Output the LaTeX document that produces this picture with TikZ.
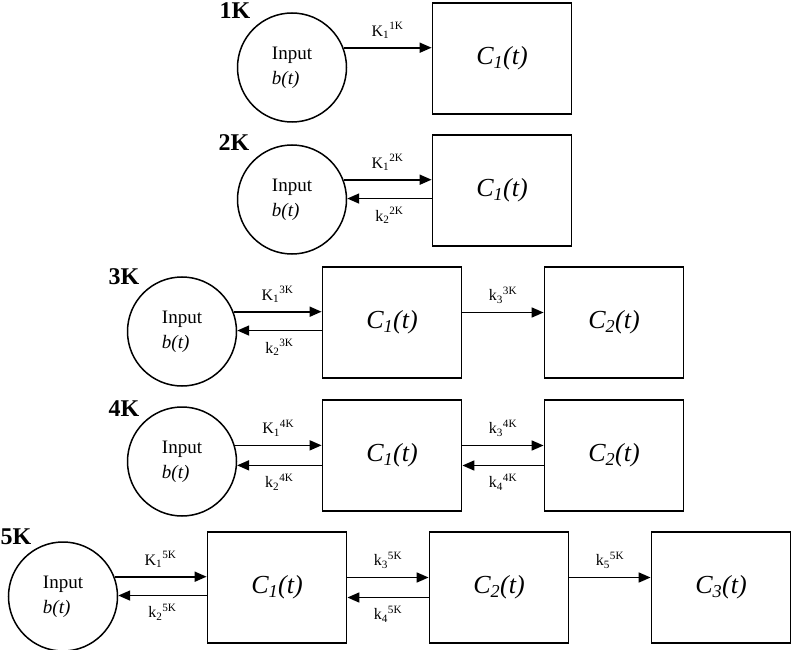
\documentclass[tikz,border=0pt]{standalone}
\usepackage{fontspec}
\setmainfont{Liberation Serif}
\usetikzlibrary{arrows.meta}

\begin{document}
\begin{tikzpicture}[x=1pt,y=-1pt]
\tikzstyle{pool} = [draw,shape=circle,line width=1.5pt,minimum size=109pt,inner sep=0pt,align=left,font=\fontsize{19}{25}\selectfont]
\tikzstyle{comp} = [draw,shape=rectangle,line width=1.8pt,minimum width=139pt,minimum height=111pt,inner sep=0pt,font=\fontsize{26}{28}\selectfont\itshape,node distance=222pt]
\tikzstyle{flow} = [line width=1.7pt,-{Triangle[length=12pt,width=10pt]}]
\tikzstyle{rate} = [font=\fontsize{16}{18}\selectfont,inner sep=2pt]
\tikzstyle{model} = [font=\fontsize{24}{26}\selectfont\bfseries,inner sep=0pt]

\useasboundingbox (0,0) rectangle (793,650);

% 1K
\node[comp] (c11) at (502,58.5) {C\textsubscript{1}(t)};
\node[pool,node distance=210pt,left of=c11,yshift=-9pt] (in1) {Input\\\textit{b(t)}};
\node[model] (m1) at (235,11) {1K};

\draw[flow] (in1.21) -- (in1.21 -| c11.west) node[rate,midway,above=6pt] (r11) {K\textsubscript{1}\textsuperscript{1K}};

% 2K
\node[comp] (c21) at (502,190.5) {C\textsubscript{1}(t)};
\node[pool,node distance=210pt,left of=c21,yshift=-9pt] (in2) {Input\\\textit{b(t)}};
\node[model] (m2) at (234,143) {2K};

\draw[flow] (in2.21) -- (in2.21 -| c21.west) node[rate,midway,above=6pt] (r21) {K\textsubscript{1}\textsuperscript{2K}};
\draw[flow] (c21.west |- in2.1) -- (in2.1) node[rate,midway,below=6pt] (r22) {k\textsubscript{2}\textsuperscript{2K}};

% 3K
\node[comp] (c31) at (392,322.5) {C\textsubscript{1}(t)};
\node[comp,right of=c31] (c32) {C\textsubscript{2}(t)};
\node[pool,node distance=210pt,left of=c31,yshift=-9pt] (in3) {Input\\\textit{b(t)}};
\node[model] (m3) at (124,277) {3K};

\draw[flow] (in3.21) -- (in3.21 -| c31.west) node[rate,midway,above=6pt] (r31) {K\textsubscript{1}\textsuperscript{3K}};
\draw[flow] (c31.west |- in3.1) -- (in3.1) node[rate,midway,below=6pt] (r32) {k\textsubscript{2}\textsuperscript{3K}};
\draw[flow] ([yshift=10pt]c31.east) -- ([yshift=10pt]c32.west) node[rate,midway,above=6pt] (r33) {k\textsubscript{3}\textsuperscript{3K}};

% 4K
\node[comp] (c41) at (392,455.5) {C\textsubscript{1}(t)};
\node[comp,right of=c41] (c42) {C\textsubscript{2}(t)};
\node[pool,node distance=210pt,left of=c41,yshift=-6pt] (in4) {Input\\\textit{b(t)}};
\node[model] (m4) at (124,409) {4K};

\draw[flow] (in4.17) -- (in4.17 -| c41.west) node[rate,midway,above=6pt] (r41) {K\textsubscript{1}\textsuperscript{4K}};
\draw[flow] (c41.west |- in4.-4) -- (in4.-4) node[rate,midway,below=6pt] (r42) {k\textsubscript{2}\textsuperscript{4K}};
\draw[flow] ([yshift=10pt]c41.east) -- ([yshift=10pt]c42.west) node[rate,midway,above=6pt] (r43) {k\textsubscript{3}\textsuperscript{4K}};
\draw[flow] ([yshift=-10pt]c42.west) -- ([yshift=-10pt]c41.east) node[rate,midway,below=6pt] (r44) {k\textsubscript{4}\textsuperscript{4K}};

% 5K
\node[comp] (c51) at (277,587.5) {C\textsubscript{1}(t)};
\node[comp,right of=c51] (c52) {C\textsubscript{2}(t)};
\node[comp,right of=c52] (c53) {C\textsubscript{3}(t)};
\node[pool,node distance=214pt,left of=c51,yshift=-9pt] (in5) {Input\\\textit{b(t)}};
\node[model] (m5) at (16,537) {5K};

\draw[flow] (in5.21) -- (in5.21 -| c51.west) node[rate,midway,above=6pt] (r51) {K\textsubscript{1}\textsuperscript{5K}};
\draw[flow] (c51.west |- in5.1) -- (in5.1) node[rate,midway,below=6pt] (r52) {k\textsubscript{2}\textsuperscript{5K}};
\draw[flow] ([yshift=10pt]c51.east) -- ([yshift=10pt]c52.west) node[rate,midway,above=6pt] (r53) {k\textsubscript{3}\textsuperscript{5K}};
\draw[flow] ([yshift=-10pt]c52.west) -- ([yshift=-10pt]c51.east) node[rate,midway,below=6pt] (r54) {k\textsubscript{4}\textsuperscript{5K}};
\draw[flow] ([yshift=10pt]c52.east) -- ([yshift=10pt]c53.west) node[rate,midway,above=6pt] (r55) {k\textsubscript{5}\textsuperscript{5K}};

\end{tikzpicture}
\end{document}
